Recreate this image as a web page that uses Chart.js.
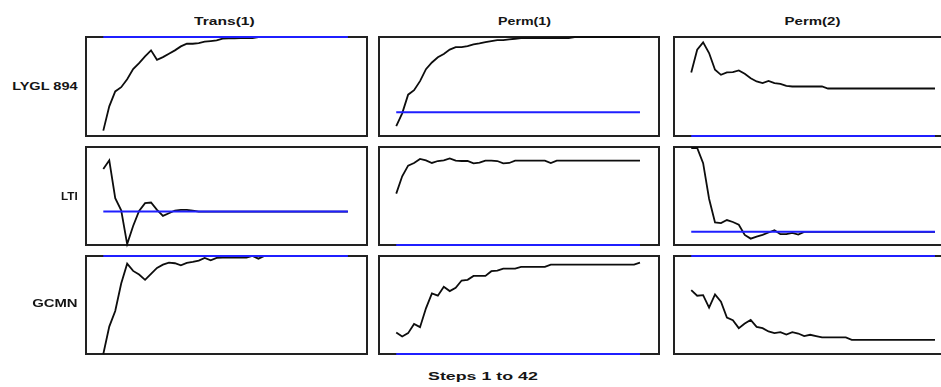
<!DOCTYPE html>
<html>
<head>
<meta charset="utf-8">
<script src="https://cdn.jsdelivr.net/npm/chart.js@4"></script>
<style>
  html, body { margin: 0; padding: 0; background: #fff; overflow: hidden; }
  #wrap { position: relative; width: 941px; height: 387px; overflow: hidden; }
  .panel { position: absolute; }
  .lbl { position: absolute; white-space: nowrap; font: bold 11px 'Liberation Sans', Arial, sans-serif; color: #151515; line-height: 1; }
</style>
</head>
<body>
<div id="wrap"></div>
<script>
const steps = [1, 2, 3, 4, 5, 6, 7, 8, 9, 10, 11, 12, 13, 14, 15, 16, 17, 18, 19, 20, 21,
               22, 23, 24, 25, 26, 27, 28, 29, 30, 31, 32, 33, 34, 35, 36, 37, 38, 39, 40, 41, 42];

const colTitles = ['Trans(1)', 'Perm(1)', 'Perm(2)'];
const rowTitles = ['LYGL 894', 'LTI', 'GCMN'];
const xTitle = 'Steps 1 to 42';

// responses, one array per panel (row, column)
const lyglTrans1 = [-0.946, -0.70, -0.55, -0.507, -0.426, -0.324, -0.264, -0.196, -0.135, -0.23,
  -0.203, -0.169, -0.135, -0.095, -0.068, -0.068, -0.061, -0.047, -0.041, -0.034, -0.017,
  -0.013, -0.013, -0.012, -0.011, -0.010, 0, 0, 0, 0, 0, 0, 0, 0, 0, 0, 0, 0, 0, 0, 0, 0];
const lyglPerm1 = [-0.185, -0.014, 0.234, 0.293, 0.414, 0.572, 0.662, 0.730, 0.775, 0.833,
  0.865, 0.865, 0.878, 0.901, 0.914, 0.932, 0.946, 0.959, 0.959, 0.968, 0.977,
  0.986, 0.986, 0.986, 0.986, 0.986, 0.986, 0.986, 0.986, 0.986,
  1, 1, 1, 1, 1, 1, 1, 1, 1, 1, 1, 1];
const lyglPerm2 = [0.642, 0.872, 0.946, 0.838, 0.669, 0.618, 0.642, 0.645, 0.662, 0.628,
  0.584, 0.551, 0.534, 0.557, 0.534, 0.527, 0.507, 0.5, 0.5, 0.5, 0.5, 0.5, 0.5,
  0.48, 0.48, 0.48, 0.48, 0.48, 0.48, 0.48, 0.48, 0.48, 0.48, 0.48, 0.48, 0.48, 0.48,
  0.48, 0.48, 0.48, 0.48, 0.48];

const ltiTrans1 = [0.658, 0.793, 0.207, 0.02, -0.503, -0.223, 0.01, 0.130, 0.140, 0.026,
  -0.067, -0.026, 0.016, 0.026, 0.026, 0.013, 0, 0, 0, 0, 0, 0, 0, 0, 0, 0, 0, 0, 0, 0,
  0, 0, 0, 0, 0, 0, 0, 0, 0, 0, 0, 0];
const ltiPerm1 = [0.524, 0.701, 0.810, 0.837, 0.878, 0.864, 0.837, 0.857, 0.864, 0.884,
  0.861, 0.857, 0.857, 0.833, 0.840, 0.861, 0.861, 0.857, 0.833, 0.837,
  0.861, 0.861, 0.861, 0.861, 0.861, 0.861, 0.837, 0.861, 0.861, 0.861, 0.861, 0.861,
  0.861, 0.861, 0.861, 0.861, 0.861, 0.861, 0.861, 0.861, 0.861, 0.861];
const ltiPerm2 = [0.988, 0.988, 0.809, 0.390, 0.112, 0.104, 0.139, 0.116, 0.084, -0.036,
  -0.080, -0.056, -0.036, -0.008, 0.020, -0.028, -0.028, -0.012, -0.032,
  0, 0, 0, 0, 0, 0, 0, 0, 0, 0, 0, 0, 0, 0, 0, 0, 0, 0, 0, 0, 0, 0, 0];

const gcmnTrans1 = [-1.0, -0.72, -0.561, -0.280, -0.078, -0.152, -0.189, -0.243, -0.182, -0.122,
  -0.088, -0.068, -0.074, -0.095, -0.071, -0.061, -0.047, -0.020, -0.044, -0.020,
  -0.017, -0.017, -0.017, -0.017, -0.017, 0, -0.027, 0, 0, 0, 0, 0, 0, 0, 0, 0, 0, 0, 0, 0, 0, 0];
const gcmnPerm1 = [0.220, 0.179, 0.213, 0.307, 0.274, 0.466, 0.618, 0.595, 0.686, 0.642,
  0.676, 0.750, 0.757, 0.797, 0.797, 0.797, 0.845, 0.851, 0.872, 0.872, 0.872,
  0.889, 0.889, 0.889, 0.889, 0.889, 0.912, 0.912, 0.912, 0.912, 0.912, 0.912, 0.912,
  0.912, 0.912, 0.912, 0.912, 0.912, 0.912, 0.912, 0.912, 0.932];
const gcmnPerm2 = [-0.348, -0.405, -0.399, -0.527, -0.392, -0.466, -0.628, -0.655, -0.736, -0.689,
  -0.652, -0.723, -0.736, -0.770, -0.787, -0.777, -0.801, -0.777, -0.791, -0.818, -0.804, -0.818,
  -0.831, -0.831, -0.831, -0.831, -0.831, -0.855, -0.855, -0.855, -0.855, -0.855, -0.855,
  -0.855, -0.855, -0.855, -0.855, -0.855, -0.855, -0.855, -0.855, -0.855];

const series = [
  [lyglTrans1, lyglPerm1, lyglPerm2],
  [ltiTrans1, ltiPerm1, ltiPerm2],
  [gcmnTrans1, gcmnPerm1, gcmnPerm2]
];

// y ranges of each panel
const yMin = [
  [-1, -0.315, 0],
  [-0.518, 0, -0.155],
  [-1, 0, -1]
];
const yMax = [
  [0, 1, 1],
  [1, 1, 1],
  [0, 1, 0]
];

// panel boxes in page pixels
const colLeft = [86, 379, 674];
const colWidth = [281, 280, 280];
const rowTop = [37, 147, 256];
const rowHeight = [99, 98, 98];
const pad = 6;

const wrap = document.getElementById('wrap');

const frame = {
  id: 'frame',
  beforeDatasetsDraw(chart) {
    const a = chart.chartArea;
    const ctx = chart.ctx;
    ctx.save();
    ctx.strokeStyle = '#222';
    ctx.lineWidth = 2;
    ctx.strokeRect(a.left, a.top, a.right - a.left, a.bottom - a.top);
    ctx.restore();
  }
};

const chartInstances = [];

for (let r = 0; r < 3; r++) {
  for (let c = 0; c < 3; c++) {
    const div = document.createElement('div');
    div.className = 'panel';
    div.style.left = (colLeft[c] - pad) + 'px';
    div.style.top = (rowTop[r] - pad) + 'px';
    const cv = document.createElement('canvas');
    cv.width = colWidth[c] + 2 * pad;
    cv.height = rowHeight[r] + 2 * pad;
    div.appendChild(cv);
    wrap.appendChild(div);

    const vals = series[r][c];
    chartInstances.push(new Chart(cv.getContext('2d'), {
      type: 'line',
      data: {
        datasets: [
          {
            data: [{ x: steps[0], y: 0 }, { x: steps[steps.length - 1], y: 0 }],
            borderColor: '#1f1fff',
            borderWidth: 2,
            pointRadius: 0,
            clip: 4,
            order: 0
          },
          {
            data: steps.map((s, i) => ({ x: s, y: vals[i] })),
            borderColor: '#0d0d0d',
            borderWidth: 1.8,
            pointRadius: 0,
            tension: 0,
            clip: 4,
            order: 1
          }
        ]
      },
      options: {
        responsive: false,
        animation: false,
        events: [],
        layout: { padding: pad },
        plugins: { legend: { display: false }, tooltip: { enabled: false } },
        scales: {
          x: { type: 'linear', min: -1.9, max: 45.2, display: false },
          y: { min: yMin[r][c], max: yMax[r][c], display: false }
        }
      },
      plugins: [frame]
    }));
  }
}

// text, stretched to the widths seen in the picture
function label(text, x, y, width, align) {
  const el = document.createElement('div');
  el.className = 'lbl';
  el.textContent = text;
  wrap.appendChild(el);
  const w = el.offsetWidth, h = el.offsetHeight;
  const k = width / w;
  el.style.top = (y - h / 2) + 'px';
  if (align === 'right') {
    el.style.left = (x - w) + 'px';
    el.style.transformOrigin = 'right center';
  } else {
    el.style.left = (x - w / 2) + 'px';
    el.style.transformOrigin = 'center center';
  }
  el.style.transform = 'scaleX(' + k + ')';
}

const titleX = [224, 524, 812];
const titleW = [61, 53, 56];
colTitles.forEach((t, i) => label(t, titleX[i], 21, titleW[i], 'center'));

const rowY = [86, 196, 303];
const rowW = [66, 17, 46];
rowTitles.forEach((t, i) => label(t, 78, rowY[i], rowW[i], 'right'));

label(xTitle, 483, 376, 110, 'center');
</script>
</body>
</html>
